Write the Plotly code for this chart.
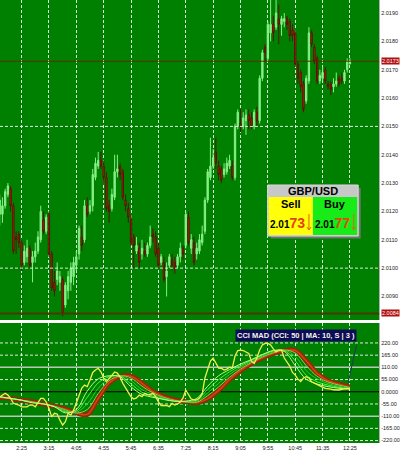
import plotly.graph_objects as go

W, H = 400, 454

# ---------------- data ----------------
TIME_LABELS = ["2:25", "3:15", "4:05", "4:55", "5:45", "6:35", "7:25",
               "8:15", "9:05", "9:55", "10:45", "11:35", "12:25"]
LABEL_BARS = [8, 18, 28, 38, 48, 58, 68, 78, 88, 98, 108, 118, 128]

OPEN = [2.0119, 2.0119, 2.0122, 2.0126, 2.0128, 2.0122, 2.0111, 2.0112, 2.0109, 2.0102,
        2.0104, 2.0107, 2.0102, 2.0104, 2.0106, 2.0110, 2.0117, 2.0113, 2.0119, 2.0105,
        2.0095, 2.0096, 2.0095, 2.0096, 2.0087, 2.0092, 2.0095, 2.0097, 2.0101, 2.0105,
        2.0111, 2.0110, 2.0122, 2.0120, 2.0122, 2.0132, 2.0136, 2.0138, 2.0136, 2.0132,
        2.0122, 2.0121, 2.0125, 2.0134, 2.0136, 2.0134, 2.0124, 2.0121, 2.0117, 2.0111,
        2.0106, 2.0107, 2.0105, 2.0106, 2.0105, 2.0108, 2.0112, 2.0111, 2.0107, 2.0102,
        2.0102, 2.0097, 2.0101, 2.0103, 2.0102, 2.0101, 2.0104, 2.0107, 2.0108, 2.0118,
        2.0107, 2.0109, 2.0105, 2.0106, 2.0109, 2.0113, 2.0124, 2.0132, 2.0136, 2.0141,
        2.0136, 2.0135, 2.0133, 2.0134, 2.0136, 2.0136, 2.0132, 2.0150, 2.0151, 2.0150,
        2.0152, 2.0154, 2.0153, 2.0150, 2.0155, 2.0152, 2.0167, 2.0178, 2.0174, 2.0183,
        2.0186, 2.0185, 2.0188, 2.0186, 2.0187, 2.0188, 2.0187, 2.0184, 2.0183, 2.0172,
        2.0169, 2.0165, 2.0159, 2.0166, 2.0183, 2.0178, 2.0174, 2.0166, 2.0167, 2.0170,
        2.0165, 2.0165, 2.0164, 2.0165, 2.0167, 2.0167, 2.0166, 2.0170, 2.0172]
HIGH = [2.0126, 2.0125, 2.0128, 2.0130, 2.0129, 2.0123, 2.0113, 2.0113, 2.0110, 2.0108,
        2.0110, 2.0108, 2.0106, 2.0109, 2.0113, 2.0122, 2.0120, 2.0119, 2.0120, 2.0106,
        2.0099, 2.0102, 2.0099, 2.0097, 2.0095, 2.0099, 2.0102, 2.0104, 2.0106, 2.0115,
        2.0115, 2.0124, 2.0125, 2.0124, 2.0135, 2.0139, 2.0141, 2.0141, 2.0138, 2.0134,
        2.0124, 2.0128, 2.0140, 2.0140, 2.0137, 2.0135, 2.0126, 2.0123, 2.0119, 2.0112,
        2.0111, 2.0109, 2.0110, 2.0109, 2.0109, 2.0115, 2.0114, 2.0113, 2.0109, 2.0105,
        2.0104, 2.0102, 2.0105, 2.0105, 2.0104, 2.0105, 2.0109, 2.0108, 2.0120, 2.0120,
        2.0112, 2.0111, 2.0109, 2.0112, 2.0115, 2.0125, 2.0135, 2.0146, 2.0142, 2.0146,
        2.0138, 2.0136, 2.0137, 2.0139, 2.0140, 2.0138, 2.0151, 2.0156, 2.0156, 2.0155,
        2.0156, 2.0156, 2.0155, 2.0156, 2.0157, 2.0168, 2.0177, 2.0179, 2.0187, 2.0195,
        2.0189, 2.0195, 2.0193, 2.0189, 2.0190, 2.0189, 2.0188, 2.0186, 2.0184, 2.0173,
        2.0170, 2.0166, 2.0168, 2.0185, 2.0184, 2.0179, 2.0175, 2.0170, 2.0171, 2.0171,
        2.0166, 2.0166, 2.0167, 2.0169, 2.0168, 2.0169, 2.0170, 2.0174, 2.0174]
LOW = [2.0115, 2.0116, 2.0121, 2.0125, 2.0120, 2.0105, 2.0105, 2.0107, 2.0099, 2.0101,
       2.0102, 2.0100, 2.0095, 2.0102, 2.0105, 2.0109, 2.0112, 2.0112, 2.0104, 2.0092,
       2.0090, 2.0094, 2.0092, 2.0083, 2.0086, 2.0089, 2.0092, 2.0094, 2.0099, 2.0103,
       2.0106, 2.0109, 2.0118, 2.0119, 2.0120, 2.0131, 2.0135, 2.0135, 2.0130, 2.0120,
       2.0116, 2.0120, 2.0124, 2.0132, 2.0131, 2.0124, 2.0120, 2.0116, 2.0108, 2.0100,
       2.0105, 2.0100, 2.0103, 2.0104, 2.0104, 2.0107, 2.0109, 2.0104, 2.0100, 2.0101,
       2.0095, 2.0090, 2.0100, 2.0099, 2.0098, 2.0100, 2.0102, 2.0103, 2.0107, 2.0108,
       2.0105, 2.0101, 2.0103, 2.0105, 2.0108, 2.0112, 2.0123, 2.0131, 2.0135, 2.0135,
       2.0131, 2.0130, 2.0132, 2.0133, 2.0135, 2.0131, 2.0131, 2.0149, 2.0148, 2.0149,
       2.0147, 2.0149, 2.0149, 2.0149, 2.0150, 2.0151, 2.0166, 2.0173, 2.0173, 2.0180,
       2.0180, 2.0184, 2.0179, 2.0182, 2.0185, 2.0184, 2.0180, 2.0180, 2.0171, 2.0165,
       2.0162, 2.0155, 2.0158, 2.0165, 2.0178, 2.0172, 2.0165, 2.0165, 2.0166, 2.0165,
       2.0163, 2.0161, 2.0162, 2.0164, 2.0164, 2.0165, 2.0165, 2.0169, 2.0172]
CLOSE = [2.0124, 2.0122, 2.0127, 2.0129, 2.0122, 2.0106, 2.0110, 2.0109, 2.0101, 2.0106,
         2.0107, 2.0101, 2.0104, 2.0106, 2.0111, 2.0120, 2.0113, 2.0118, 2.0105, 2.0093,
         2.0092, 2.0099, 2.0097, 2.0084, 2.0094, 2.0097, 2.0100, 2.0102, 2.0104, 2.0114,
         2.0108, 2.0122, 2.0119, 2.0122, 2.0133, 2.0137, 2.0138, 2.0136, 2.0132, 2.0121,
         2.0120, 2.0126, 2.0134, 2.0135, 2.0133, 2.0125, 2.0122, 2.0118, 2.0109, 2.0108,
         2.0108, 2.0102, 2.0107, 2.0105, 2.0108, 2.0111, 2.0111, 2.0105, 2.0101, 2.0104,
         2.0096, 2.0099, 2.0104, 2.0101, 2.0100, 2.0104, 2.0107, 2.0105, 2.0119, 2.0109,
         2.0110, 2.0102, 2.0107, 2.0110, 2.0112, 2.0124, 2.0134, 2.0136, 2.0139, 2.0137,
         2.0133, 2.0131, 2.0135, 2.0137, 2.0138, 2.0132, 2.0150, 2.0155, 2.0150, 2.0153,
         2.0154, 2.0152, 2.0150, 2.0155, 2.0152, 2.0167, 2.0176, 2.0176, 2.0186, 2.0186,
         2.0183, 2.0190, 2.0186, 2.0188, 2.0188, 2.0186, 2.0182, 2.0182, 2.0172, 2.0167,
         2.0164, 2.0156, 2.0167, 2.0183, 2.0179, 2.0173, 2.0166, 2.0168, 2.0169, 2.0166,
         2.0164, 2.0163, 2.0165, 2.0166, 2.0165, 2.0166, 2.0169, 2.0173, 2.0173]
BARS = list(range(len(CLOSE)))

PRICE_TICKS = [2.0090, 2.0100, 2.0110, 2.0120, 2.0130, 2.0140, 2.0150,
               2.0160, 2.0170, 2.0180, 2.0190]
PRICE_GRID = [2.0100, 2.0150]
LAST_PRICE = 2.0173
LOW_MARK = 2.0084

CCI = [-23, -15, -7, -15, -30, -52, -55, -60, -68, -68,
       -68, -60, -60, -68, -46, -30, -30, -46, -74, -113,
       -97, -100, -128, -150, -135, -97, -105, -83, -51, -15,
       17, 30, 23, 53, 87, 98, 106, 90, 62, 45,
       60, 75, 89, 84, 66, 38, 17, -4, -23, -33,
       -28, -15, -22, -7, -13, -13, -7, -22, -46, -62,
       -62, -62, -67, -52, -60, -55, -46, -28, 8, -10,
       -33, -37, -37, -28, -10, 62, 98, 138, 152, 128,
       107, 106, 98, 102, 111, 107, 161, 186, 188, 186,
       179, 173, 138, 128, 152, 188, 211, 218, 218, 211,
       193, 180, 188, 188, 152, 134, 116, 87, 75, 57,
       46, 62, 68, 62, 45, 39, 32, 26, 21, 15,
       15, 12, 9, 8, 8, 11, 14, 15, 15]

MA_BARS = [0, 4, 8, 12, 16, 20, 24, 28, 32, 36, 40, 44, 48, 52, 56, 60, 64,
           68, 72, 76, 80, 84, 88, 92, 96, 100, 104, 108, 112, 116, 120, 124, 128]
MA_1 = [-22, -30, -38, -50, -55, -68, -95, -80, 3, 58, 72, 68, 22, -12, -25, -35, -43,
        -42, -30, 25, 72, 100, 125, 145, 168, 186, 182, 118, 57, 35, 23, 16, 11]
MA_2 = [-23, -30, -38, -48, -55, -67, -90, -88, -25, 40, 68, 72, 35, -2, -20, -33, -42,
        -44, -37, 10, 55, 90, 118, 142, 165, 184, 186, 140, 75, 45, 30, 20, 14]
MA_3 = [-24, -30, -38, -47, -55, -66, -86, -93, -55, 15, 60, 74, 50, 10, -12, -30, -41,
        -46, -43, -5, 38, 78, 110, 137, 161, 180, 188, 160, 95, 58, 37, 25, 16]
MA_4 = [-25, -30, -38, -46, -55, -65, -82, -96, -80, -8, 50, 72, 62, 25, -5, -26, -39,
        -46, -47, -18, 22, 65, 102, 132, 157, 176, 188, 175, 118, 70, 44, 30, 19]
MA_SLOW = [-25, -30, -38, -45, -55, -65, -78, -95, -102, -30, 40, 70, 70, 38, 0, -22, -37,
           -45, -49, -32, 6, 55, 95, 128, 153, 173, 186, 186, 140, 83, 50, 34, 21]

TREND_BARS = [127.3, 130.4]
TREND_CCI = [40, 210]

CCI_TICKS = [220, 165, 110, 55, 0, -55, -110, -165, -220]
CCI_TICK_TEXT = ["220.00", "165.00", "110.00", "55.000", "0.0000",
                 "-55.00", "-110.00", "-165.00", "-220.00"]
CCI_DASHED = [220, 165, 55, -55, -165, -220]
CCI_BANDS = [110, -110]

PAIR = "GBP/USD"
SELL_BIG, SELL_PIPS = "2.01", "73"
BUY_BIG, BUY_PIPS = "2.01", "77"
INDICATOR_TITLE = "CCI MAD (CCI: 50 | MA: 10, S | 3 )"

# ---------------- layout helpers ----------------
def px(x):
    return x / W

def py(y):
    return 1 - y / H

FONT = "Liberation Sans, Arial, sans-serif"
PLOT_RIGHT = px(381)
GREEN_BG = "#008000"

fig = go.Figure()

fig.add_trace(go.Candlestick(
    x=BARS, open=OPEN, high=HIGH, low=LOW, close=CLOSE,
    xaxis="x", yaxis="y",
    increasing=dict(line=dict(color="#86f086", width=1), fillcolor="#86f086"),
    decreasing=dict(line=dict(color="#5a1204", width=1), fillcolor="#c8280c"),
    whiskerwidth=0, showlegend=False, hoverinfo="skip",
))

ma_styles = [
    ("#b8ff8c", 1.0, MA_1),
    ("#3cff3c", 1.0, MA_2),
    ("#22d622", 1.0, MA_3),
    ("#70e050", 1.0, MA_4),
]
fig.add_trace(go.Scatter(x=MA_BARS, y=MA_SLOW, xaxis="x2", yaxis="y2", mode="lines",
                         line=dict(color="#8e2c08", width=5, shape="spline"),
                         showlegend=False, hoverinfo="skip"))
fig.add_trace(go.Scatter(x=MA_BARS, y=MA_SLOW, xaxis="x2", yaxis="y2", mode="lines",
                         line=dict(color="#d8400c", width=1.6, shape="spline"),
                         showlegend=False, hoverinfo="skip"))
for color, width, vals in reversed(ma_styles):
    fig.add_trace(go.Scatter(x=MA_BARS, y=vals, xaxis="x2", yaxis="y2", mode="lines",
                             line=dict(color=color, width=width, shape="spline"),
                             showlegend=False, hoverinfo="skip"))
fig.add_trace(go.Scatter(x=BARS, y=CCI, xaxis="x2", yaxis="y2", mode="lines",
                         line=dict(color="#eef04a", width=1.3),
                         showlegend=False, hoverinfo="skip"))
fig.add_trace(go.Scatter(x=TREND_BARS, y=TREND_CCI, xaxis="x2", yaxis="y2", mode="lines",
                         line=dict(color="#1c3c5c", width=1),
                         showlegend=False, hoverinfo="skip"))

TOP_DOMAIN = [py(320), 1]
LOW_DOMAIN = [py(443), py(323)]
X_RANGE = [0.11, 138.65]

xcommon = dict(range=X_RANGE, tickvals=LABEL_BARS, ticktext=TIME_LABELS,
               showgrid=True, gridcolor="rgba(255,255,255,0.85)", gridwidth=1,
               griddash="3px,2px", zeroline=False, ticks="", fixedrange=True,
               domain=[0, PLOT_RIGHT])

fig.update_layout(
    width=W, height=H,
    margin=dict(l=0, r=0, t=0, b=0),
    paper_bgcolor="white", plot_bgcolor=GREEN_BG,
    font=dict(family=FONT, size=6, color="black"),
    xaxis=dict(**xcommon, anchor="y", showticklabels=False,
               rangeslider=dict(visible=False)),
    xaxis2=dict(**xcommon, anchor="y2", matches="x", showticklabels=True,
                tickfont=dict(size=5.5, color="#202020")),
    yaxis=dict(domain=TOP_DOMAIN, range=[2.00817, 2.01946], side="right",
               tickvals=PRICE_TICKS, tickformat=".4f", showgrid=False,
               zeroline=False, ticks="", tickfont=dict(size=5.5, color="#202020"),
               showline=True, linecolor="#b0b0b0", linewidth=1, fixedrange=True),
    yaxis2=dict(domain=LOW_DOMAIN, range=[-231, 310], side="right",
                tickvals=CCI_TICKS, ticktext=CCI_TICK_TEXT, showgrid=False,
                zeroline=False, ticks="", tickfont=dict(size=5.5, color="#202020"),
                showline=True, linecolor="#b0b0b0", linewidth=1, fixedrange=True),
)

shapes = []
for p in PRICE_GRID:
    shapes.append(dict(type="line", xref="x domain", x0=0, x1=1, yref="y", y0=p, y1=p,
                       line=dict(color="rgba(255,255,255,0.85)", width=1, dash="3px,2px")))
shapes.append(dict(type="line", xref="x domain", x0=0, x1=1, yref="y",
                   y0=LAST_PRICE, y1=LAST_PRICE, line=dict(color="#5a2c00", width=1)))
shapes.append(dict(type="line", xref="x domain", x0=0, x1=1, yref="y",
                   y0=LOW_MARK, y1=LOW_MARK, line=dict(color="#4a3800", width=2)))
for v in CCI_DASHED:
    shapes.append(dict(type="line", xref="x2 domain", x0=0, x1=1, yref="y2", y0=v, y1=v,
                       line=dict(color="rgba(255,255,255,0.85)", width=1, dash="3px,2px"),
                       layer="below"))
for v in CCI_BANDS:
    shapes.append(dict(type="line", xref="x2 domain", x0=0, x1=1, yref="y2", y0=v, y1=v,
                       line=dict(color="#b8c8b8", width=1.5), layer="below"))
shapes.append(dict(type="line", xref="x2 domain", x0=0, x1=1, yref="y2", y0=0, y1=0,
                   line=dict(color="black", width=1.2), layer="below"))

# GBP/USD quote widget
def rect(x0, y0, x1, y1, fill, line="rgba(0,0,0,0)", lw=0):
    return dict(type="rect", xref="paper", yref="paper",
                x0=px(x0), x1=px(x1), y0=py(y1), y1=py(y0),
                fillcolor=fill, line=dict(color=line, width=lw), layer="above")

def seg(x0, y0, x1, y1, color, lw=1):
    return dict(type="line", xref="paper", yref="paper",
                x0=px(x0), x1=px(x1), y0=py(y0), y1=py(y1),
                line=dict(color=color, width=lw), layer="above")

ARROW_C = "#e06018"
shapes += [
    rect(272, 188, 362.5, 238.5, "#6e7a6e"),
    rect(269, 185, 360, 236, "#c8c8c8", "#d8d8d8", 1),
    rect(270, 197, 314.5, 235, "#ffff08"),
    rect(314.5, 197, 359, 235, "#18ec18"),
]
for ax in (310.5, 355.5):
    shapes += [
        seg(ax, 214, ax, 230, ARROW_C, 1),
        seg(ax - 2, 227, ax, 230, ARROW_C, 1),
        seg(ax + 2, 227, ax, 230, ARROW_C, 1),
    ]
fig.update_layout(shapes=shapes)

ann = []
def text(x, y, s, size, color="black", bold=True, xanchor="center"):
    ann.append(dict(xref="paper", yref="paper", x=px(x), y=py(y), showarrow=False,
                    text=(f"<b>{s}</b>" if bold else s), xanchor=xanchor, yanchor="middle",
                    font=dict(family=FONT, size=size, color=color)))

text(314.5, 191, PAIR, 11)
text(292, 204, "Sell", 11)
text(337, 204, "Buy", 11)
text(289, 222.5, f"{SELL_BIG}<span style='font-size:14px;color:#e8400c'>{SELL_PIPS}</span>", 10)
text(334, 222.5, f"{BUY_BIG}<span style='font-size:14px;color:#e04a10'>{BUY_PIPS}</span>", 10)

# right-side price tags
for p in (LAST_PRICE, LOW_MARK):
    ann.append(dict(xref="paper", yref="y", x=px(382.5), y=p, showarrow=False,
                    text=f"{p:.4f}", xanchor="left", yanchor="middle",
                    bgcolor="#b01010", borderpad=0,
                    font=dict(family=FONT, size=5.5, color="white")))

ann.append(dict(xref="paper", yref="paper", x=px(297.5), y=py(335.5), showarrow=False,
                text=f"<b>{INDICATOR_TITLE}</b>", xanchor="center", yanchor="middle",
                bgcolor="#0c0c58", borderpad=1,
                font=dict(family=FONT, size=7.5, color="#f4f4e0")))

fig.update_layout(annotations=ann)

fig.write_html("out.html", config={"displayModeBar": False},
               post_script="document.body.style.margin='0';document.body.style.overflow='hidden';")
